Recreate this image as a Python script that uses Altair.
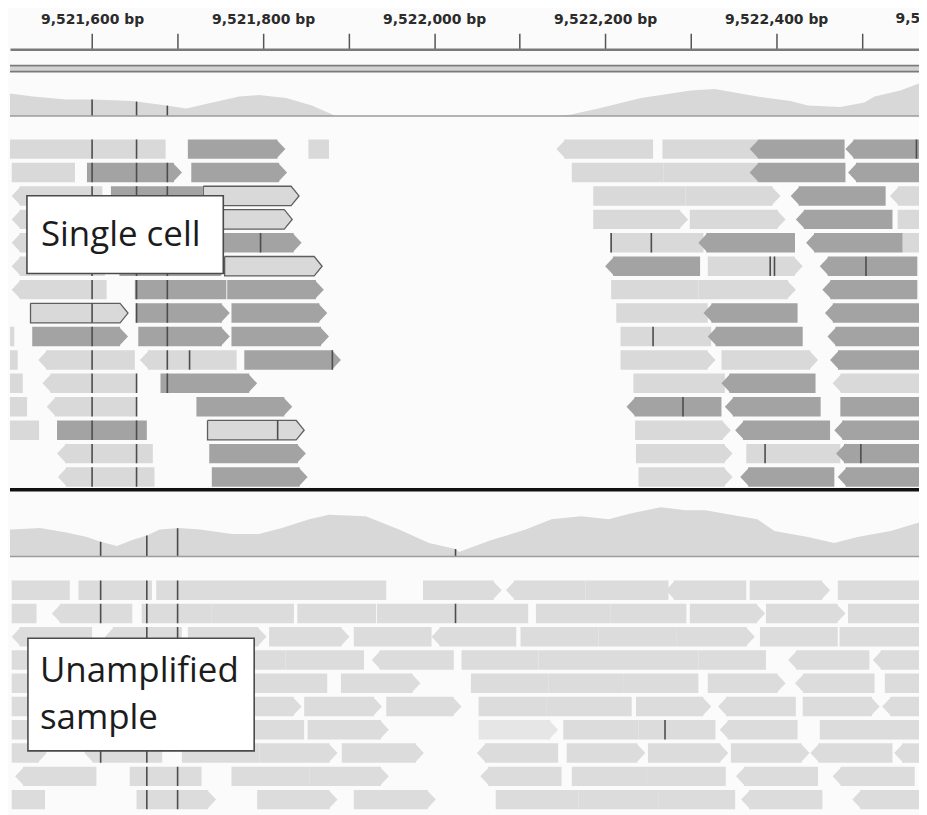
import altair as alt
import numpy as np
import pandas as pd

# ---------------------------------------------------------------- data
REGION_START = 9521500            # all positions below are bp offsets from here
VIEW_START, VIEW_END = 9521504, 9522567
ruler_ticks = list(range(9521600, 9522600, 100))
ruler_edge_label = [9522600]      # label whose centre lies past the right edge

# coverage tracks (offset bp, depth in reads)
sc_cov_pos = [4, 31, 70, 101, 147, 187, 210, 241, 272, 295, 327, 357, 381, 384,
              645, 660, 692, 742, 800, 828, 878, 917, 937, 975, 1003, 1015, 1045, 1068]
sc_cov_depth = [15, 13, 11, 11, 10, 7, 5, 9, 13, 14, 12, 7, 1, 0,
                0, 1, 5, 12, 17, 18, 13, 10, 7, 6, 9, 13, 17, 22]
un_cov_pos = [4, 7, 39, 70, 94, 109, 129, 147, 164, 179, 202, 226, 264, 295, 322, 354, 377,
              420, 459, 494, 525, 529, 567, 607, 637, 672, 704, 731, 765, 794, 817,
              847, 878, 898, 937, 968, 995, 1034, 1068]
un_cov_depth = [18, 18, 19, 16, 13, 10, 7, 11, 14, 18, 19, 18, 15, 15, 19, 25, 28,
                27, 18, 9, 5, 3, 11, 18, 25, 27, 25, 29, 33, 31, 31,
                28, 25, 17, 13, 9, 13, 17, 23]

# single-cell reads (one entry per read; row 1 = top)
sc_row = [1] * 7 + [2] * 7 + [3] * 7 + [4] * 7 + [5] * 7 + [6] * 6 + [7] * 6 + [8] * 6 + \
         [9] * 7 + [10] * 7 + [11] * 6 + [12] * 6 + [13] * 6 + [14] * 5 + [15] * 5
sc_start = [
    -6, 212, 353, 643, 767, 869, 981,
    6, 94, 216, 661, 768, 869, 984,
    6, 122, 230, 686, 794, 917, 1033,
    6, 121, 223, 686, 799, 923, 1042,
    6, 123, 234, 706, 809, 935, 1048,
    6, 132, 255, 700, 820, 951,
    6, 150, 258, 707, 809, 954,
    28, 151, 263, 713, 815, 957,
    -6, 30, 154, 263, 718, 820, 960,
    -6, 37, 156, 278, 718, 836, 963,
    -6, 42, 180, 733, 836, 966,
    -6, 47, 222, 725, 840, 975,
    -6, 59, 235, 735, 852, 968,
    59, 237, 736, 865, 970,
    60, 240, 739, 858, 972,
]
sc_end = [
    186, 326, 377, 756, 878, 980, 1080,
    80, 205, 328, 768, 878, 981, 1080,
    112, 229, 342, 794, 905, 1028, 1080,
    115, 221, 334, 797, 911, 1036, 1080,
    118, 231, 345, 815, 922, 1048, 1080,
    115, 251, 369, 811, 931, 1065,
    117, 257, 371, 809, 923, 1065,
    142, 261, 375, 820, 925, 1080,
    9, 142, 261, 377, 824, 931, 1080,
    13, 150, 269, 391, 829, 949, 1080,
    19, 152, 293, 840, 946, 1080,
    24, 152, 334, 836, 952, 1080,
    38, 164, 348, 847, 963, 1080,
    171, 350, 849, 975, 1080,
    173, 352, 849, 968, 1080,
]
sc_strand = list(
    ".+.-.--" ".++..--" "-.+.+--" "-.+++-." "-.+.--." "-.+-+-" "-.+.+-" "+++.--"
    ".+++.--" ".--+++-" ".-+.--" ".-+--." "..++--" "-++.-" "-++--")
sc_shade = list(
    "LDLLLDD" "LDDLLDD" "LDLLLDL" "LDLLLDL" "LDDLDDL" "LDLDLD" "LDDLLD" "LDDLDD"
    "LDDDLDD" "LLLDLLD" "LLDLDL" "LLDDDD" "LDLLDD" "LDLLD" "LDLDD")
sc_outlined = [(3, 230), (4, 223), (6, 255), (8, 28), (13, 235)]   # (row, start)
sc_mismatch_pos = [100, 152, 188]
sc_extra_mm_row = [1, 5, 5, 5, 6, 6, 6, 9, 10, 10, 12, 13, 14, 14]
sc_extra_mm_pos = [1064, 297, 707, 754, 893, 898, 1005, 756, 214, 381, 791, 317, 887, 999]

# unamplified reads
un_row = [1] * 11 + [2] * 12 + [3] * 11 + [4] * 11 + [5] * 11 + [6] * 12 + [7] * 10 + \
         [8] * 11 + [9] * 9 + [10] * 9
un_start = [
    6, 84, 175, 266, 356, 487, 584, 677, 771, 869, 972,
    6, 53, 158, 240, 340, 433, 529, 619, 706, 799, 888, 984,
    6, 115, 212, 307, 406, 497, 601, 692, 783, 881, 974,
    6, 102, 198, 326, 427, 532, 622, 715, 809, 914, 1013,
    6, 104, 196, 284, 391, 543, 634, 721, 820, 922, 1027,
    6, 109, 200, 255, 348, 444, 552, 631, 736, 832, 931, 1024,
    6, 103, 196, 258, 352, 552, 651, 739, 834, 951,
    6, 91, 205, 296, 392, 550, 655, 750, 847, 940, 1038,
    10, 144, 263, 354, 554, 661, 750, 853, 966,
    6, 152, 293, 406, 572, 669, 762, 859, 989,
]
un_end = [
    74, 170, 266, 356, 444, 579, 677, 774, 865, 963, 1080,
    35, 147, 240, 336, 432, 529, 610, 706, 795, 887, 981, 1080,
    100, 205, 304, 401, 497, 596, 692, 783, 875, 972, 1080,
    96, 195, 326, 418, 523, 622, 715, 809, 888, 1009, 1080,
    97, 193, 284, 375, 484, 634, 721, 809, 911, 1015, 1080,
    103, 196, 255, 345, 439, 532, 631, 731, 824, 923, 1021, 1080,
    97, 193, 258, 348, 447, 645, 739, 829, 925, 1080,
    47, 182, 296, 387, 488, 645, 747, 844, 939, 1036, 1080,
    105, 228, 354, 447, 649, 750, 841, 949, 1062,
    45, 245, 387, 502, 669, 762, 852, 954, 1080,
]
un_strand = list(
    ".....+-.-+." ".-.......++." "--++.-..+.." "....-....--" "....+...+-."
    "...+++..+-+-" "....++..-." "+-.++-+++--" "-..+-..--" ".+++...--")
un_shade = list("U" * 11 + "U" * 12 + "U" * 11 + "U" * 11 + "U" * 11 + "U" * 12 +
                "UUUUUVUUUU" + "U" * 11 + "U" * 9 + "U" * 9)
un_mismatch_pos = [110, 164, 200]
un_extra_mm_row = [2, 7]
un_extra_mm_pos = [525, 770]

labels = ["Single cell", "Unamplified\nsample"]

# ---------------------------------------------------------------- layout / style
W, H = 912, 767
ARROW_BP = 9.3
READ_H = 19.5
SC_ROW0, SC_PITCH = 90.5, 23.5
UN_ROW0, UN_PITCH = 533.0, 23.35
SC_COV_BASE, UN_COV_BASE = 67.0, 509.0
PX_PER_READ = 1.5
DIVIDER_Y = 442.0
LABEL_FONT = dict(font="DejaVu Sans", fontWeight="bold", fontSize=14, color="#2b2b2b")

X_SCALE = alt.Scale(domain=[VIEW_START, VIEW_END], nice=False, zero=False)
Y_SCALE = alt.Scale(domain=[0, H], reverse=True, nice=False, zero=False)
X_AXIS = alt.Axis(orient="top", values=ruler_ticks, title=None, grid=False,
                  labelExpr="datum.value % 200 == 0 ? format(datum.value, ',') + ' bp' : ''",
                  tickSize=16, tickColor="#555555", tickWidth=1.5,
                  domainColor="#7a7a7a", domainWidth=2.5,
                  labelFont=LABEL_FONT["font"], labelFontWeight="bold",
                  labelFontSize=LABEL_FONT["fontSize"],
                  labelColor=LABEL_FONT["color"], labelPadding=10, labelBaseline="alphabetic",
                  labelOverlap=False, labelFlush=False, labelBound=False)


def xe(field):
    return alt.X(field, type="quantitative", scale=X_SCALE, axis=X_AXIS)


def ye(field):
    return alt.Y(field, type="quantitative", scale=Y_SCALE, axis=None)


def reads_frame(sample, rows, starts, ends, strands, shades, row0, pitch):
    df = pd.DataFrame({"row": rows, "start": np.array(starts) + REGION_START,
                       "end": np.array(ends) + REGION_START,
                       "strand": strands, "shade": shades})
    df["sample"] = sample
    df["top"] = row0 + (df["row"] - 1) * pitch
    df["bottom"] = df["top"] + READ_H
    df["mid"] = df["top"] + READ_H / 2
    df["bx0"] = df["start"] + np.where(df["strand"] == "-", ARROW_BP, 0)
    df["bx1"] = df["end"] - np.where(df["strand"] == "+", ARROW_BP, 0)
    return df


sc = reads_frame("sc", sc_row, sc_start, sc_end, sc_strand, sc_shade, SC_ROW0, SC_PITCH)
un = reads_frame("un", un_row, un_start, un_end, un_strand, un_shade, UN_ROW0, UN_PITCH)
reads = pd.concat([sc, un], ignore_index=True)


def mismatch_frame(df, positions, extra_rows, extra_pos):
    out = []
    for p in positions:
        g = p + REGION_START
        hit = df[(df["start"] <= g) & (df["end"] >= g)]
        for _, r in hit.iterrows():
            out.append({"x": g, "top": r["top"], "bottom": r["bottom"]})
    for rw, p in zip(extra_rows, extra_pos):
        g = p + REGION_START
        hit = df[(df["row"] == rw) & (df["start"] <= g) & (df["end"] >= g)]
        for _, r in hit.iterrows():
            out.append({"x": g, "top": r["top"], "bottom": r["bottom"]})
    return pd.DataFrame(out)


mism = pd.concat([mismatch_frame(sc, sc_mismatch_pos, sc_extra_mm_row, sc_extra_mm_pos),
                  mismatch_frame(un, un_mismatch_pos, un_extra_mm_row, un_extra_mm_pos)],
                 ignore_index=True)


def cov_frame(pos, depth, base):
    df = pd.DataFrame({"x": np.array(pos) + REGION_START, "depth": depth})
    df["ytop"] = base - df["depth"] * PX_PER_READ
    df["ybase"] = base
    return df


sc_cov = cov_frame(sc_cov_pos, sc_cov_depth, SC_COV_BASE)
un_cov = cov_frame(un_cov_pos, un_cov_depth, UN_COV_BASE)

cov_mm = []
for positions, cpos, cdep, base in [
        (sc_mismatch_pos, sc_cov_pos, sc_cov_depth, SC_COV_BASE),
        (un_mismatch_pos + [525], un_cov_pos, un_cov_depth, UN_COV_BASE)]:
    for p in positions:
        d = float(np.interp(p, cpos, cdep))
        cov_mm.append({"x": p + REGION_START, "ytop": base - d * PX_PER_READ, "ybase": base})
cov_mm = pd.DataFrame(cov_mm)

# outline polygons for the outlined reads
poly = []
for k, (rw, st) in enumerate(sc_outlined):
    r = sc[(sc["row"] == rw) & (sc["start"] == st + REGION_START)].iloc[0]
    pts = [(r["start"], r["top"]), (r["bx1"], r["top"]), (r["end"], r["mid"]),
           (r["bx1"], r["bottom"]), (r["start"], r["bottom"]), (r["start"], r["top"])]
    for i, (px, py) in enumerate(pts):
        poly.append({"id": k, "ord": i, "x": px, "y": py})
poly = pd.DataFrame(poly)

SHADE_SCALE = alt.Scale(domain=["L", "D", "U", "V"],
                        range=["#d9d9d9", "#a3a3a3", "#dcdcdc", "#e6e6e6"])
RIGHT_TRI = "M-0.12,-0.975L0.8,0L-0.12,0.975Z"
LEFT_TRI = "M0.12,-0.975L-0.8,0L0.12,0.975Z"

hlines = pd.DataFrame({"y": [16.5, 22.5], "kind": ["a", "b"]})
edge_lab = pd.DataFrame({"x": ruler_edge_label})
edge_lab["text"] = [f"{v:,} bp" for v in ruler_edge_label]
edge_lab["y"] = -26.0

layers = []
# ruler double line
layers.append(alt.Chart(pd.DataFrame({"y": [19.5]})).mark_rule(color="#d2d2d2", strokeWidth=5)
              .encode(y=ye("y")))
layers.append(alt.Chart(hlines).mark_rule(color="#7a7a7a", strokeWidth=1.6).encode(y=ye("y")))
layers.append(alt.Chart(edge_lab).mark_text(align="center", baseline="alphabetic", **LABEL_FONT)
              .encode(x=xe("x"), y=ye("y"), text="text:N"))
# coverage
for cdf in (sc_cov, un_cov):
    layers.append(alt.Chart(cdf).mark_area(color="#d8d8d8", interpolate="linear", clip=True)
                  .encode(x=xe("x"), y=ye("ytop"), y2=alt.Y2("ybase")))
layers.append(alt.Chart(cov_mm).mark_rule(color="#4a4a4a", strokeWidth=1.6)
              .encode(x=xe("x"), y=ye("ytop"), y2=alt.Y2("ybase")))
layers.append(alt.Chart(pd.DataFrame({"y": [SC_COV_BASE, UN_COV_BASE]}))
              .mark_rule(color="#9c9c9c", strokeWidth=1.6).encode(y=ye("y")))
# reads: bodies and arrow heads
layers.append(alt.Chart(reads).mark_rect(clip=True).encode(
    x=xe("bx0"), x2=alt.X2("bx1"), y=ye("top"), y2=alt.Y2("bottom"),
    color=alt.Color("shade:N", scale=SHADE_SCALE, legend=None)))
for strand, col, shape in (("+", "bx1", RIGHT_TRI), ("-", "bx0", LEFT_TRI)):
    layers.append(alt.Chart(reads[reads["strand"] == strand]).mark_point(
        shape=shape, size=400, filled=True, opacity=1, strokeWidth=0, clip=True).encode(
        x=xe(col), y=ye("mid"),
        color=alt.Color("shade:N", scale=SHADE_SCALE, legend=None)))
layers.append(alt.Chart(poly).mark_line(color="#5e5e5e", strokeWidth=1.3).encode(
    x=xe("x"), y=ye("y"), detail="id:N", order="ord:Q"))
layers.append(alt.Chart(mism).mark_rule(color="#4d4d4d", strokeWidth=1.6, clip=True).encode(
    x=xe("x"), y=ye("top"), y2=alt.Y2("bottom")))
# divider between samples
layers.append(alt.Chart(pd.DataFrame({"y": [DIVIDER_Y]})).mark_rule(color="#111111", strokeWidth=3.5)
              .encode(y=ye("y")))
# label boxes
box_df = pd.DataFrame({"label": labels})
layers.append(alt.Chart(box_df.iloc[[0]]).mark_rect(fill="white", stroke="#4a4a4a", strokeWidth=1.6)
              .encode(x=alt.value(17), x2=alt.value(214), y=alt.value(147), y2=alt.value(225)))
layers.append(alt.Chart(box_df.iloc[[1]]).mark_rect(fill="white", stroke="#4a4a4a", strokeWidth=1.6)
              .encode(x=alt.value(18), x2=alt.value(245), y=alt.value(591), y2=alt.value(704)))
layers.append(alt.Chart(box_df.iloc[[0]]).mark_text(
    align="left", baseline="alphabetic", font="Open Sans", fontSize=35, color="#1c1c1c")
    .encode(x=alt.value(31), y=alt.value(197), text="label:N"))
layers.append(alt.Chart(box_df.iloc[[1]]).mark_text(
    align="left", baseline="alphabetic", font="Open Sans", fontSize=35, color="#1c1c1c",
    lineBreak="\n", lineHeight=47)
    .encode(x=alt.value(30), y=alt.value(635), text="label:N"))

chart = alt.layer(*layers).properties(
    width=W, height=H,
    padding={"left": 2, "top": 40, "right": 0, "bottom": 0},
    autosize=alt.AutoSizeParams(type="none"),
    background="#fbfbfb",
).configure_view(stroke=None)

chart.save("out.html", embed_options={"renderer": "svg", "actions": False})
